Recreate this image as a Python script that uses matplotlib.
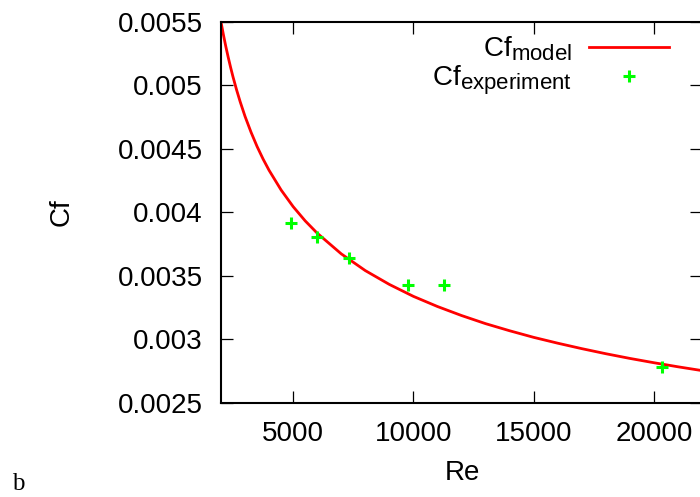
import matplotlib
matplotlib.use("Agg")
import matplotlib.pyplot as plt
import matplotlib._mathtext as _mt
from matplotlib.ticker import FixedLocator, FuncFormatter

# gnuplot-like subscripts (0.8 of the base size)
_mt.SHRINK_FACTOR = 0.8

plt.rcParams['font.family'] = ['Liberation Sans', 'DejaVu Sans']
plt.rcParams['mathtext.fontset'] = 'custom'
plt.rcParams['mathtext.rm'] = 'Liberation Sans'
plt.rcParams['mathtext.it'] = 'Liberation Sans'

# model curve
re_model = [2000, 2100, 2200, 2300, 2400, 2500, 2650, 2800, 3000, 3250, 3500,
            3750, 4000, 4500, 5000, 5500, 6000, 7000, 8000, 9000, 10000, 11000,
            12000, 13000, 14000, 15000, 16000, 17000, 18000, 19000, 20000,
            21000, 22000]
cf_model = [0.005500, 0.005400, 0.005307, 0.005222, 0.005142, 0.005067, 0.004964,
            0.004870, 0.004756, 0.004631, 0.004519, 0.004420, 0.004331, 0.004176,
            0.004045, 0.003933, 0.003836, 0.003673, 0.003541, 0.003432, 0.003338,
            0.003258, 0.003187, 0.003123, 0.003067, 0.003015, 0.002969, 0.002926,
            0.002886, 0.002849, 0.002815, 0.002783, 0.002753]

# experiment points
re_exp = [4904, 5998, 7304, 9769, 11266, 20318]
cf_exp = [0.003918, 0.003803, 0.003638, 0.003425, 0.003425, 0.002779]

x_ticks = [5000, 10000, 15000, 20000]
y_ticks = [0.0025, 0.003, 0.0035, 0.004, 0.0045, 0.005, 0.0055]
y_labels = ['0.0025', '0.003', '0.0035', '0.004', '0.0045', '0.005', '0.0055']

FS = 20

fig = plt.figure(figsize=(7.0, 4.97), dpi=100)
ax = fig.add_axes([221/700, (497-402.7)/497, (702-221)/700, (402.7-22)/497])

ax.plot(re_model, cf_model, color='#ff0000', lw=2.0, label=r'Cf$_{\mathrm{model}}$',
        solid_joinstyle='round')
ax.plot(re_exp, cf_exp, linestyle='none', marker='+', color='#00ff00', ms=9, mew=2.2,
        label=r'Cf$_{\mathrm{experiment}}$')

ax.set_xlim(2000, 22000)
ax.set_ylim(0.0025, 0.0055)
ax.xaxis.set_major_locator(FixedLocator(x_ticks))
ax.yaxis.set_major_locator(FixedLocator(y_ticks))
ax.set_yticklabels(y_labels)
ax.xaxis.set_major_formatter(FuncFormatter(lambda v, p: f"{int(v)}"))
ax.tick_params(direction='in', length=8.5, width=0.9, top=True, right=True,
               labelsize=FS, pad=13)
for s in ax.spines.values():
    s.set_linewidth(1.5)

ax.set_xlabel('Re', fontsize=FS)
ax.set_ylabel('Cf', fontsize=FS)
ax.xaxis.set_label_coords((462-221)/481, (402.7-473)/380.7)
ax.xaxis.label.set_va('center')
ax.yaxis.set_label_coords((62-221)/481, (402.7-212)/380.7)
ax.yaxis.label.set_va('center')

leg = ax.legend(loc='upper right', bbox_to_anchor=((674.6-221)/481, 1.0 - 7/380.7),
                markerfirst=False, frameon=False, fontsize=FS, handlelength=2.88,
                handletextpad=0.61, labelspacing=0.0, borderaxespad=0.0,
                borderpad=0.2)

fig.text(18/700, 1-484/497, 'b', fontsize=18, family='Liberation Serif',
         ha='center', va='center')

fig.savefig('out.png', dpi=100)
